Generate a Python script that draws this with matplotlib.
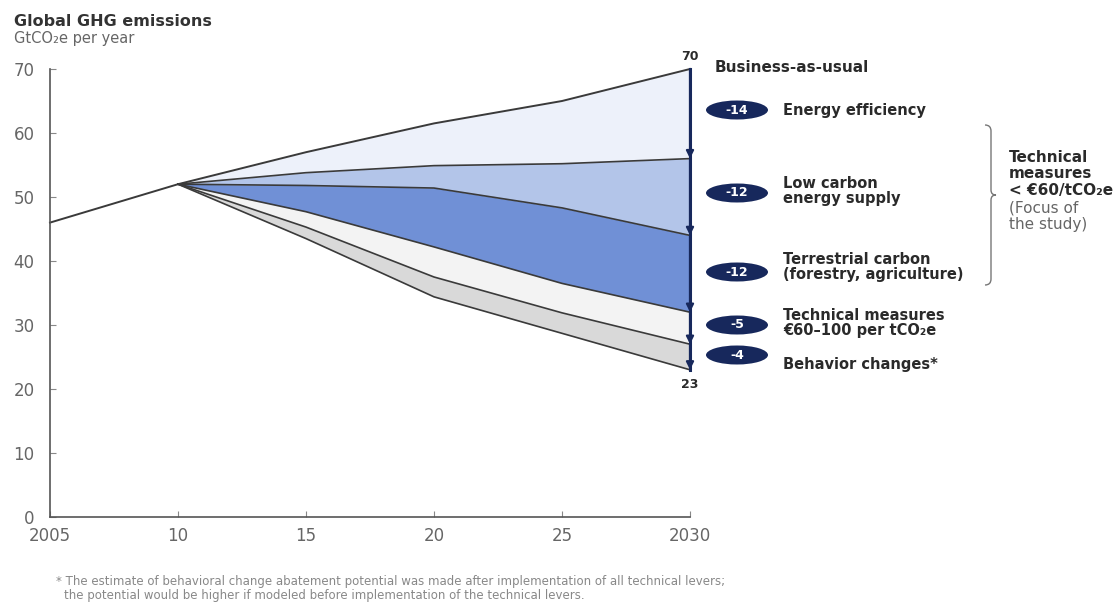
import matplotlib
matplotlib.use('Agg')
import matplotlib.pyplot as plt
from matplotlib.patches import Ellipse, PathPatch
from matplotlib.path import Path

# ---------------- data ----------------
years = [2005, 2010, 2015, 2020, 2025, 2030]
bau = [46, 52, 57, 61.5, 65, 70]
proj_years = [2010, 2015, 2020, 2025, 2030]
after_efficiency = [52, 53.8, 54.9, 55.2, 56]
after_low_carbon = [52, 51.8, 51.4, 48.3, 44]
after_terrestrial = [52, 47.7, 42.2, 36.5, 32]
after_technical = [52, 45.3, 37.5, 31.9, 27]
after_behavior = [52, 43.5, 34.4, 28.7, 23]

x_ticks = [2005, 2010, 2015, 2020, 2025, 2030]
x_tick_labels = ['2005', '10', '15', '20', '25', '2030']
y_ticks = [0, 10, 20, 30, 40, 50, 60, 70]

lever_labels = ['Energy efficiency',
                'Low carbon\nenergy supply',
                'Terrestrial carbon\n(forestry, agriculture)',
                'Technical measures\n€60–100 per tCO₂e',
                'Behavior changes*']

# ---------------- style ----------------
plt.rcParams['font.family'] = ['DejaVu Sans']
W, H = 1118, 612
navy = '#17285c'
dark = '#2a2a2a'
gray = '#666666'
band_colors = ['#edf1fa', '#b3c5e9', '#7090d6', '#f3f3f3', '#d9d9d9']


def fx(px):
    return px / W


def fy(py):
    return 1 - py / H


fig = plt.figure(figsize=(W / 100, H / 100), dpi=100)
ax = fig.add_axes([fx(50), fy(517), 640 / W, 448 / H])

bau_proj = bau[1:]
layers = [bau_proj, after_efficiency, after_low_carbon, after_terrestrial,
          after_technical, after_behavior]
for i in range(5):
    ax.fill_between(proj_years, layers[i + 1], layers[i], color=band_colors[i], lw=0)

ax.plot(years, bau, color='#3a3a3a', lw=1.4, clip_on=False)
for lay in layers[1:]:
    ax.plot(proj_years, lay, color='#3a3a3a', lw=1.2, clip_on=False)

ax.set_xlim(2005, 2030)
ax.set_ylim(0, 70)
ax.set_xticks(x_ticks)
ax.set_xticklabels(x_tick_labels)
ax.set_yticks(y_ticks)
for s in ['top', 'right']:
    ax.spines[s].set_visible(False)
for s in ['left', 'bottom']:
    ax.spines[s].set_color('#555555')
    ax.spines[s].set_linewidth(1.2)
ax.tick_params(axis='both', direction='in', length=4, color='#888888',
               labelcolor=gray, labelsize=12)
ax.tick_params(axis='y', pad=11)
ax.tick_params(axis='x', pad=7)

# vertical arrow with reductions
levels = [layers[k][-1] for k in range(6)]
ax.plot([2030, 2030], [levels[0], levels[-1]], color=navy, lw=2.2, clip_on=False)
for k in range(5):
    ax.annotate('', xy=(2030, levels[k + 1]), xytext=(2030, levels[k]),
                arrowprops=dict(arrowstyle='-|>', color=navy, lw=1.6,
                                shrinkA=0, shrinkB=0, mutation_scale=11),
                annotation_clip=False)

ax.text(2030, levels[0] + 0.9, f'{levels[0]:g}', ha='center', va='bottom',
        fontsize=9, fontweight='bold', color=dark)
ax.text(2030, levels[-1] - 1.3, f'{levels[-1]:g}', ha='center', va='top',
        fontsize=9, fontweight='bold', color=dark)

# titles
fig.text(fx(14), fy(22), 'Global GHG emissions', fontsize=11.5, fontweight='bold',
         color='#333333', va='center')
fig.text(fx(14), fy(38), 'GtCO₂e per year', fontsize=10.5, color=gray, va='center')

# right annotations
fig.text(fx(715), fy(67), 'Business-as-usual', fontsize=11, fontweight='bold',
         color=dark, va='center')
pill_y = [110, 193, 272, 325, 355]
label_y = [110, 191, 267, 323, 365]
for k in range(5):
    red = levels[k] - levels[k + 1]
    e = Ellipse((fx(737), fy(pill_y[k])), width=62 / W, height=19 / H,
                transform=fig.transFigure, facecolor=navy, edgecolor='none')
    fig.add_artist(e)
    fig.text(fx(737), fy(pill_y[k]), f'-{red:g}', ha='center', va='center',
             fontsize=9, fontweight='bold', color='white')
    fig.text(fx(783), fy(label_y[k]), lever_labels[k], ha='left', va='center',
             fontsize=10.5, fontweight='bold', color=dark, linespacing=1.05)

# brace
bx, top, bot, tip = 991, 125, 285, 195
verts = [(bx - 6, top), (bx, top), (bx, top + 6),
         (bx, tip - 5),
         (bx, tip), (bx + 5, tip),
         (bx, tip), (bx, tip + 5),
         (bx, bot - 6),
         (bx, bot), (bx - 6, bot)]
codes = [Path.MOVETO, Path.CURVE3, Path.CURVE3, Path.LINETO,
         Path.CURVE3, Path.CURVE3, Path.CURVE3, Path.CURVE3,
         Path.LINETO, Path.CURVE3, Path.CURVE3]
verts = [(fx(a), fy(b)) for a, b in verts]
fig.add_artist(PathPatch(Path(verts, codes), transform=fig.transFigure,
                         facecolor='none', edgecolor='#777777', lw=1.0))

fig.text(fx(1009), fy(157), 'Technical', fontsize=11, fontweight='bold', color=dark, va='center')
fig.text(fx(1009), fy(174), 'measures', fontsize=11, fontweight='bold', color=dark, va='center')
fig.text(fx(1009), fy(191), '< €60/tCO₂e', fontsize=11, fontweight='bold', color=dark, va='center')
fig.text(fx(1009), fy(208), '(Focus of', fontsize=11, color=gray, va='center')
fig.text(fx(1009), fy(224), 'the study)', fontsize=11, color=gray, va='center')

# footnote
fig.text(fx(56), fy(582), '* The estimate of behavioral change abatement potential was made after '
         'implementation of all technical levers;', fontsize=8.5, color='#888888', va='center')
fig.text(fx(64), fy(595), 'the potential would be higher if modeled before implementation '
         'of the technical levers.', fontsize=8.5, color='#888888', va='center')

fig.savefig('out.png', dpi=100)
